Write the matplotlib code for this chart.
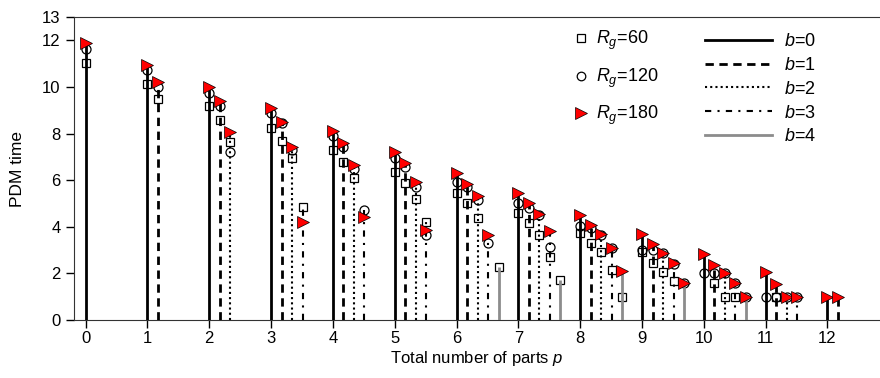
import matplotlib
matplotlib.use("Agg")
import matplotlib.pyplot as plt
from matplotlib.lines import Line2D
import numpy as np

matplotlib.rcParams['font.family'] = ['Liberation Sans', 'DejaVu Sans']
matplotlib.rcParams['mathtext.fontset'] = 'custom'
matplotlib.rcParams['mathtext.rm'] = 'Liberation Sans'
matplotlib.rcParams['mathtext.it'] = 'Liberation Sans:italic'
matplotlib.rcParams['font.size'] = 11

# total number of parts p (x axis) and number b (stem offset within each p)
p_vals = np.arange(13)
b_vals = [0, 1, 2, 3, 4]
N = None

# rows: b=0..4, columns: p=0..12 (None = not present)
rg60 = [
    [11.04, 10.11, 9.18, 8.23, 7.29, 6.37, 5.46, 4.61, 3.72, 2.92, N, N, N],
    [N, 9.50, 8.60, 7.69, 6.79, 5.89, 5.03, 4.18, 3.32, 2.43, 1.60, 1.00, N],
    [N, N, 7.64, 6.94, 6.08, 5.18, 4.39, 3.65, 2.93, 2.07, 1.00, N, N],
    [N, N, N, 4.86, N, 4.22, N, 2.72, 2.15, 1.67, 1.00, N, N],
    [N, N, N, N, N, N, 2.26, 1.72, 1.00, N, N, N, N],
]
rg120 = [
    [11.64, 10.71, 9.76, 8.87, 7.90, 6.94, 5.94, 5.03, 4.03, 3.00, 2.00, 1.00, N],
    [N, 10.00, 9.18, 8.44, 7.44, 6.58, 5.72, 4.82, 3.95, 3.00, 2.00, 1.00, N],
    [N, N, 7.22, 7.30, 6.46, 5.72, 5.15, 4.50, 3.65, 2.86, 2.00, 1.00, N],
    [N, N, N, N, 4.72, 3.65, 3.29, 3.12, 3.07, 2.40, 1.57, 1.00, N],
    [N, N, N, N, N, N, N, N, N, 1.60, 1.00, N, N],
]
rg180 = [
    [11.87, 10.96, 10.00, 9.08, 8.11, 7.19, 6.29, 5.44, 4.50, 3.70, 2.85, 2.04, 1.00],
    [N, 10.23, 9.40, 8.51, 7.61, 6.72, 5.84, 5.00, 4.08, 3.26, 2.36, 1.55, 1.00],
    [N, N, 8.08, 7.44, 6.67, 5.94, 5.32, 4.53, 3.68, 2.86, 2.02, 1.00, N],
    [N, N, N, 4.22, 4.43, 3.86, 3.65, 3.82, 3.10, 2.43, 1.58, 1.00, N],
    [N, N, N, N, N, N, N, N, 2.10, 1.60, 1.00, N, N],
]

rg_labels = ['$R_g$=60', '$R_g$=120', '$R_g$=180']
b_labels = ['$b$=0', '$b$=1', '$b$=2', '$b$=3', '$b$=4']

b_offset = 0.17
b_styles = {0: {'color': 'black', 'ls': '-', 'lw': 2.0},
            1: {'color': 'black', 'ls': (0, (3, 2)), 'lw': 2.0},
            2: {'color': 'black', 'ls': (0, (1, 1.5)), 'lw': 1.5},
            3: {'color': 'black', 'ls': (0, (3, 3, 1, 3)), 'lw': 1.5},
            4: {'color': '#8c8c8c', 'ls': '-', 'lw': 2.0}}

rg_styles = [{'marker': 's', 'ms': 5.5, 'mfc': 'none', 'mec': 'black', 'mew': 0.9, 'z': 3},
             {'marker': 'o', 'ms': 6.5, 'mfc': 'none', 'mec': 'black', 'mew': 0.9, 'z': 3},
             {'marker': '>', 'ms': 8.5, 'mfc': 'red', 'mec': 'black', 'mew': 0.5, 'z': 5}]

fig = plt.figure(figsize=(8.8, 3.78), dpi=100)
ax = fig.add_axes([0.084, 0.1534, 0.916, 0.8016])

a60 = np.array(rg60, dtype=float)
a120 = np.array(rg120, dtype=float)
a180 = np.array(rg180, dtype=float)
all_rg = [a60, a120, a180]

for b in b_vals:
    x = p_vals + b * b_offset
    tops = np.nanmax(np.vstack([a60[b], a120[b], a180[b]]), axis=0)
    ok = ~np.isnan(tops)
    st = b_styles[b]
    ax.vlines(x[ok], 0, tops[ok], colors=st['color'], linestyles=[st['ls']],
              linewidths=st['lw'], zorder=4)
    for arr, ms in zip(all_rg, rg_styles):
        ax.plot(x, arr[b], ls='none', marker=ms['marker'], ms=ms['ms'],
                mfc=ms['mfc'], mec=ms['mec'], mew=ms['mew'], zorder=ms['z'])

ax.set_xlim(-0.19, 12.85)
ax.set_ylim(0, 13)
ax.set_xticks(p_vals)
ax.set_yticks([0, 2, 4, 6, 8, 10, 12, 13])
ax.tick_params(direction='out', length=6, width=1, labelsize=12, pad=3.5)
ax.tick_params(axis='x', pad=2)
ax.spines['right'].set_visible(False)
for s in ['left', 'bottom', 'top']:
    ax.spines[s].set_color('#333333')
ax.set_xlabel('Total number of parts $p$', fontsize=12, labelpad=2)
ax.set_ylabel('PDM time', fontsize=12.5, labelpad=12)

rg_handles = [Line2D([], [], ls='none', marker=ms['marker'], ms=ms['ms'] * 0.95,
                     mfc=ms['mfc'], mec=ms['mec'], mew=ms['mew'])
              for ms in rg_styles]
leg1 = fig.legend(rg_handles, rg_labels, loc='upper left', frameon=False,
                  bbox_to_anchor=(572 / 880, 1 - 29 / 378), borderpad=0,
                  handlelength=1.0, handletextpad=0.35, labelspacing=0.8,
                  fontsize=13, borderaxespad=0)

b_handles = [Line2D([], [], color=b_styles[b]['color'], ls=b_styles[b]['ls'],
                    lw=b_styles[b]['lw']) for b in b_vals]
leg2 = fig.legend(b_handles, b_labels, loc='upper left', frameon=False,
                  bbox_to_anchor=(705 / 880, 1 - 33 / 378), borderpad=0,
                  handlelength=3.7, handletextpad=0.65, labelspacing=0.38,
                  fontsize=13, borderaxespad=0)

fig.savefig('out.png', dpi=100)
